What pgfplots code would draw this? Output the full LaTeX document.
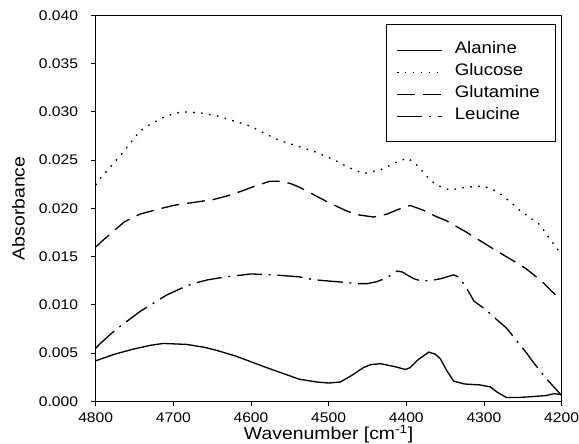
\documentclass[border=0pt]{standalone}
\usepackage{fontspec}
\setmainfont[FakeStretch=1.12]{Liberation Sans}
\usepackage{pgfplots}
\pgfplotsset{compat=1.18}

\begin{document}
\begin{tikzpicture}
\begin{axis}[
  scale only axis,
  width=350pt, height=290pt,
  x dir=reverse,
  xmin=4200, xmax=4800,
  ymin=0, ymax=0.040,
  xtick={4200,4300,...,4800},
  ytick={0,0.005,...,0.040},
  /pgf/number format/assume math mode=true,
  x tick label style={/pgf/number format/1000 sep={}, font=\fontsize{10.5}{12}\selectfont, yshift=-3.5pt, inner xsep=0pt, inner ysep=1pt},
  y tick label style={/pgf/number format/.cd, fixed, fixed zerofill, precision=3, /tikz/.cd, font=\fontsize{10.5}{12}\selectfont, xshift=-6pt},
  scaled y ticks=false,
  tick align=outside,
  xtick pos=bottom, ytick pos=left,
  major tick length=3.75pt,
  axis line style={line width=0.6pt},
  tick style={line width=0.6pt, black},
  xlabel={Wavenumber [cm\textsuperscript{-1}]},
  ylabel={Absorbance},
  label style={font=\fontsize{13}{15}\selectfont},
  xlabel style={at={(axis description cs:0.5,-0.099)}, anchor=base, inner sep=0.5pt},
  ylabel style={at={(axis description cs:-0.166,0.5)}, anchor=center, inner sep=9pt},
  legend style={at={(1,1)}, xshift=-4.5pt, yshift=-6.75pt, anchor=north east, draw=black, line width=0.6pt,
    font=\fontsize{12.5}{14}\selectfont, inner xsep=7.6pt, inner ysep=11pt, row sep=0pt, column sep=5pt,
    nodes={inner xsep=4pt, inner ysep=0pt, text height=11pt, text depth=5.5pt}},
  legend cell align=left,
  legend image code/.code={\draw[#1] (0pt,0pt) -- (34pt,0pt);},
  every axis plot/.append style={line width=1pt, black},
  after end axis/.code={\path (rel axis cs:0,1) ++(0,11.5pt);},
]
\addplot[solid] coordinates {
(4800,0.0042)(4775,0.0049)(4752,0.0054)(4730,0.0058)(4713,0.0060)(4683,0.0059)
(4660,0.0056)(4645,0.0053)(4620,0.0047)(4600,0.0041)(4580,0.0035)(4559,0.0029)
(4538,0.0023)(4515,0.0020)(4500,0.0019)(4485,0.0020)(4470,0.0027)(4455,0.0035)
(4446,0.0038)(4433,0.0039)(4415,0.0036)(4401,0.0033)(4395,0.0035)(4385,0.0043)
(4371,0.0051)(4363,0.0049)(4356,0.0044)(4348,0.0032)(4339,0.0021)(4325,0.0018)
(4305,0.0017)(4292,0.0015)(4282,0.0009)(4271,0.0004)(4255,0.0004)(4236,0.0005)
(4220,0.0006)(4210,0.0008)(4200,0.0007)};
\addlegendentry{Alanine}
\addplot[dash pattern=on 1.2pt off 4.8pt] coordinates {
(4800,0.0224)(4794,0.0231)(4780,0.0244)(4769,0.0254)(4755,0.0268)(4743,0.0280)
(4728,0.0288)(4713,0.0294)(4700,0.0298)(4688,0.0300)(4666,0.0299)(4645,0.0296)
(4624,0.0291)(4600,0.0285)(4581,0.0277)(4562,0.0270)(4538,0.0264)(4519,0.0259)
(4495,0.0251)(4476,0.0243)(4455,0.0236)(4433,0.0240)(4412,0.0248)(4399,0.0252)
(4390,0.0248)(4382,0.0241)(4370,0.0230)(4361,0.0224)(4344,0.0219)(4322,0.0222)
(4301,0.0223)(4290,0.0220)(4279,0.0215)(4265,0.0206)(4254,0.0198)(4240,0.0190)
(4228,0.0183)(4215,0.0168)(4200,0.0152)};
\addlegendentry{Glucose}
\addplot[dash pattern=on 13.5pt off 6pt] coordinates {
(4800,0.0160)(4782,0.0173)(4763,0.0186)(4743,0.0194)(4720,0.0199)(4700,0.0203)
(4675,0.0206)(4649,0.0209)(4630,0.0213)(4615,0.0217)(4595,0.0223)(4576,0.0228)
(4564,0.0228)(4550,0.0226)(4538,0.0222)(4519,0.0214)(4500,0.0206)(4476,0.0197)
(4460,0.0193)(4442,0.0191)(4425,0.0194)(4410,0.0199)(4395,0.0203)(4378,0.0198)
(4360,0.0191)(4348,0.0187)(4322,0.0175)(4300,0.0164)(4284,0.0156)(4265,0.0147)
(4245,0.0137)(4225,0.0124)(4210,0.0112)(4200,0.0104)};
\addlegendentry{Glutamine}
\addplot[dash pattern=on 19pt off 5pt on 1.5pt off 5pt] coordinates {
(4800,0.0055)(4794,0.0060)(4783,0.0068)(4773,0.0075)(4758,0.0084)(4743,0.0093)
(4725,0.0102)(4709,0.0110)(4690,0.0117)(4675,0.0122)(4655,0.0126)(4632,0.0129)
(4600,0.0132)(4570,0.0131)(4538,0.0129)(4519,0.0126)(4490,0.0124)(4463,0.0122)
(4450,0.0122)(4438,0.0124)(4425,0.0128)(4418,0.0132)(4412,0.0135)(4405,0.0134)
(4399,0.0131)(4390,0.0127)(4382,0.0125)(4370,0.0125)(4356,0.0127)(4339,0.0131)
(4333,0.0129)(4328,0.0124)(4320,0.0114)(4313,0.0104)(4301,0.0097)(4292,0.0091)
(4284,0.0085)(4271,0.0076)(4262,0.0067)(4254,0.0059)(4245,0.0050)(4236,0.0040)
(4228,0.0032)(4219,0.0023)(4210,0.0015)(4200,0.0006)};
\addlegendentry{Leucine}
\end{axis}
\end{tikzpicture}
\end{document}
